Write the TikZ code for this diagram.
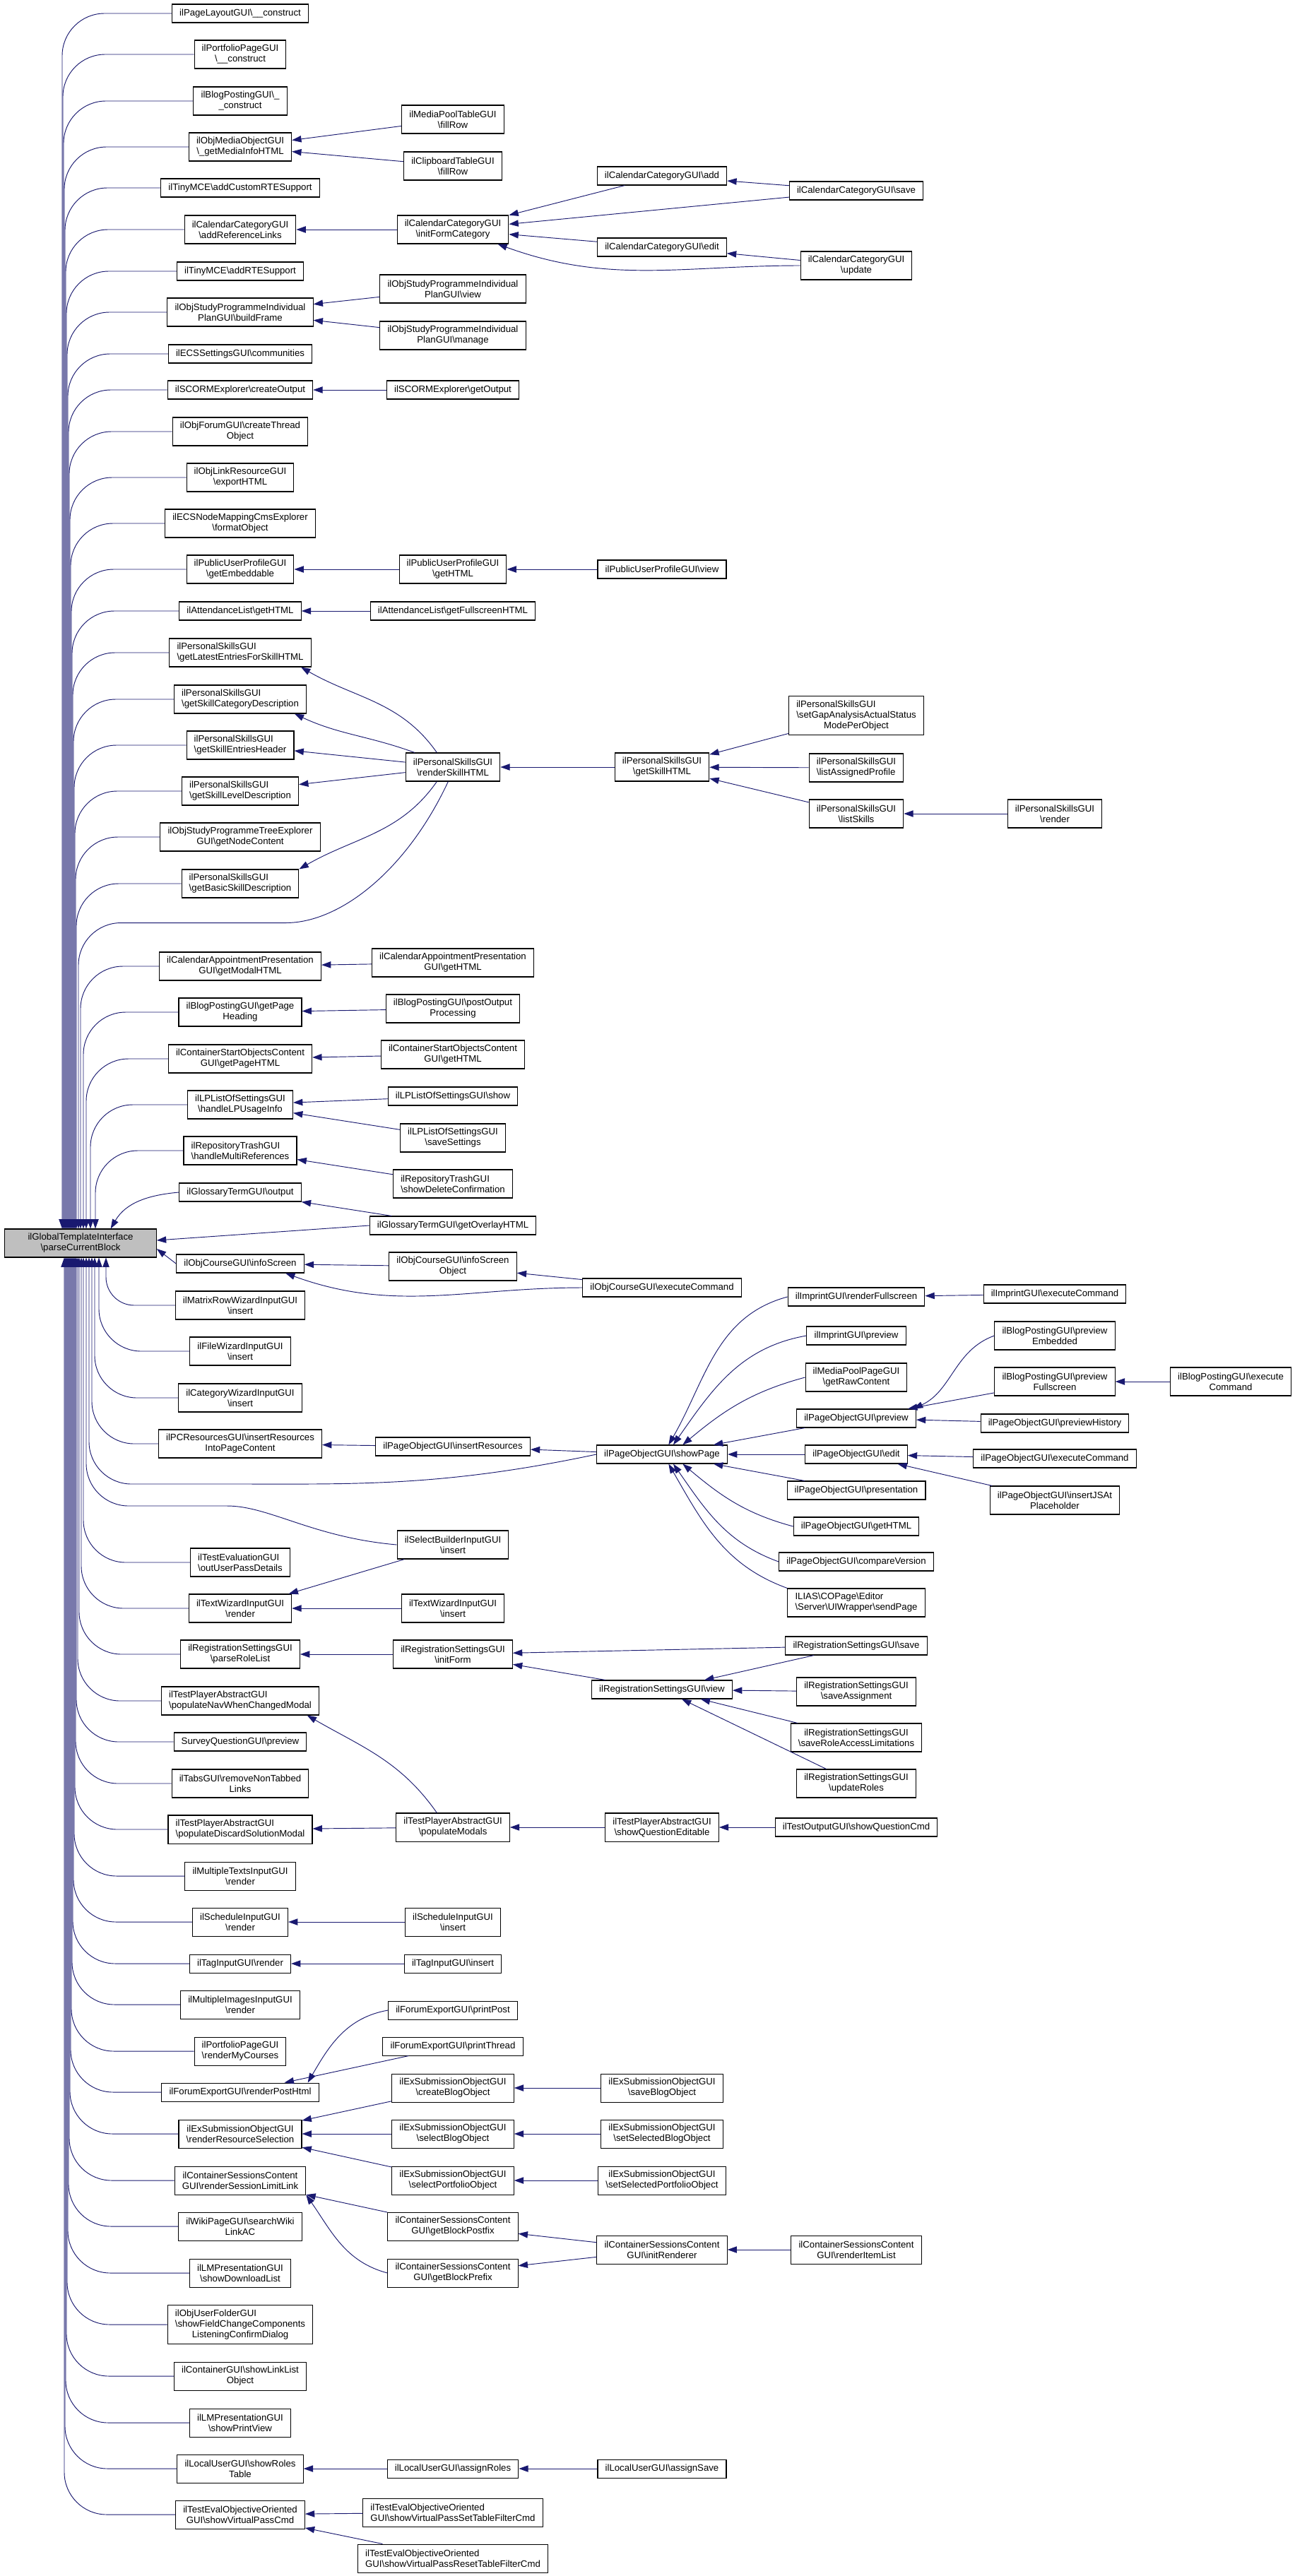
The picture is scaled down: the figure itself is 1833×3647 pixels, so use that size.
\documentclass[tikz,border=0pt]{standalone}
\usepackage{fontspec}
\setmainfont{Liberation Sans}
\usetikzlibrary{arrows.meta}
\definecolor{edgeblue}{HTML}{191970}
\definecolor{rootgray}{HTML}{BFBFBF}
\newcommand{\bsl}{\textbackslash}
\tikzset{
  fn/.style={draw=black,line width=0.8pt,fill=white,inner xsep=8pt,inner ysep=1pt,align=center,font=\fontsize{9.9}{11.25}\selectfont},
  fn1/.style={fn,minimum height=19.5pt},
  fn2/.style={fn,minimum height=30pt},
  fn3/.style={fn,minimum height=41.25pt},
  lft/.style={align=left},
  fncall/.style={draw=edgeblue,line width=0.7pt,-{Triangle[length=10pt,width=7pt]}},
}

\begin{document}
\begin{tikzpicture}[x=0.75pt,y=-0.75pt]
\path[fill=white] (0,0) rectangle (1833,3647);

\node[fn2,fill=rootgray,minimum width=161pt] (gti) at (114,1760) {ilGlobalTemplateInterface\\\bsl parseCurrentBlock};

\node[fn1] (pl) at (340,19) {ilPageLayoutGUI\bsl\_\_construct};
\node[fn2] (ppc) at (340,77) {ilPortfolioPageGUI\\\bsl\_\_construct};
\node[fn2] (bpc) at (340,143) {ilBlogPostingGUI\bsl\_\\\_construct};
\node[fn2] (mmi) at (340,208) {ilObjMediaObjectGUI\\\bsl\_getMediaInfoHTML};
\node[fn1] (tcr) at (340,266) {ilTinyMCE\bsl addCustomRTESupport};
\node[fn2] (crl) at (340,325) {ilCalendarCategoryGUI\\\bsl addReferenceLinks};
\node[fn1] (trs) at (340,384) {ilTinyMCE\bsl addRTESupport};
\node[fn2] (ipb) at (340,442) {ilObjStudyProgrammeIndividual\\PlanGUI\bsl buildFrame};
\node[fn1] (ecs) at (340,501) {ilECSSettingsGUI\bsl communities};
\node[fn1] (sco) at (340,552) {ilSCORMExplorer\bsl createOutput};
\node[fn2] (fct) at (340,611) {ilObjForumGUI\bsl createThread\\Object};
\node[fn2] (lre) at (340,676) {ilObjLinkResourceGUI\\\bsl exportHTML};
\node[fn2] (nmf) at (340,741) {ilECSNodeMappingCmsExplorer\\\bsl formatObject};
\node[fn2] (pue) at (340,806) {ilPublicUserProfileGUI\\\bsl getEmbeddable};
\node[fn1] (alh) at (340,865) {ilAttendanceList\bsl getHTML};
\node[fn2,lft] (psl) at (340,924) {ilPersonalSkillsGUI\\\bsl getLatestEntriesForSkillHTML};
\node[fn2,lft] (psc) at (340,990) {ilPersonalSkillsGUI\\\bsl getSkillCategoryDescription};
\node[fn2,lft] (pse) at (340,1055) {ilPersonalSkillsGUI\\\bsl getSkillEntriesHeader};
\node[fn2,lft] (psv) at (340,1120) {ilPersonalSkillsGUI\\\bsl getSkillLevelDescription};
\node[fn2] (tnc) at (340,1185) {ilObjStudyProgrammeTreeExplorer\\GUI\bsl getNodeContent};
\node[fn2,lft] (psb) at (340,1251) {ilPersonalSkillsGUI\\\bsl getBasicSkillDescription};
\node[fn2] (cam) at (340,1368) {ilCalendarAppointmentPresentation\\GUI\bsl getModalHTML};
\node[fn2] (bph) at (340,1433) {ilBlogPostingGUI\bsl getPage\\Heading};
\node[fn2] (csp) at (340,1499) {ilContainerStartObjectsContent\\GUI\bsl getPageHTML};
\node[fn2] (lpu) at (340,1564) {ilLPListOfSettingsGUI\\\bsl handleLPUsageInfo};
\node[fn2,lft] (rtm) at (340,1629) {ilRepositoryTrashGUI\\\bsl handleMultiReferences};
\node[fn1] (gto) at (340,1688) {ilGlossaryTermGUI\bsl output};
\node[fn1] (cis) at (340,1789) {ilObjCourseGUI\bsl infoScreen};
\node[fn2] (mri) at (340,1848) {ilMatrixRowWizardInputGUI\\\bsl insert};
\node[fn2] (fwi) at (340,1913) {ilFileWizardInputGUI\\\bsl insert};
\node[fn2] (cwi) at (340,1979) {ilCategoryWizardInputGUI\\\bsl insert};
\node[fn2] (pcr) at (340,2044) {ilPCResourcesGUI\bsl insertResources\\IntoPageContent};
\node[fn2,lft] (teo) at (340,2212) {ilTestEvaluationGUI\\\bsl outUserPassDetails};
\node[fn2] (twr) at (340,2277) {ilTextWizardInputGUI\\\bsl render};
\node[fn2] (rsp) at (340,2342) {ilRegistrationSettingsGUI\\\bsl parseRoleList};
\node[fn2,lft] (tpn) at (340,2408) {ilTestPlayerAbstractGUI\\\bsl populateNavWhenChangedModal};
\node[fn1] (sqp) at (340,2466) {SurveyQuestionGUI\bsl preview};
\node[fn2] (tgr) at (340,2525) {ilTabsGUI\bsl removeNonTabbed\\Links};
\node[fn2,lft] (tpd) at (340,2590) {ilTestPlayerAbstractGUI\\\bsl populateDiscardSolutionModal};
\node[fn2] (mtr) at (340,2656) {ilMultipleTextsInputGUI\\\bsl render};
\node[fn2] (sir) at (340,2721) {ilScheduleInputGUI\\\bsl render};
\node[fn1] (tir) at (340,2780) {ilTagInputGUI\bsl render};
\node[fn2] (mir) at (340,2838) {ilMultipleImagesInputGUI\\\bsl render};
\node[fn2] (pmc) at (340,2904) {ilPortfolioPageGUI\\\bsl renderMyCourses};
\node[fn1] (fph) at (340,2962) {ilForumExportGUI\bsl renderPostHtml};
\node[fn2] (esr) at (340,3021) {ilExSubmissionObjectGUI\\\bsl renderResourceSelection};
\node[fn2] (csl) at (340,3087) {ilContainerSessionsContent\\GUI\bsl renderSessionLimitLink};
\node[fn2] (wps) at (340,3152) {ilWikiPageGUI\bsl searchWiki\\LinkAC};
\node[fn2] (lmd) at (340,3218) {ilLMPresentationGUI\\\bsl showDownloadList};
\node[fn3,lft] (ufc) at (340,3291) {ilObjUserFolderGUI\\\bsl showFieldChangeComponents\\\null\hfill ListeningConfirmDialog\hfill\null};
\node[fn2] (cll) at (340,3364) {ilContainerGUI\bsl showLinkList\\Object};
\node[fn2] (lmp) at (340,3430) {ilLMPresentationGUI\\\bsl showPrintView};
\node[fn2] (lur) at (340,3495) {ilLocalUserGUI\bsl showRoles\\Table};
\node[fn2] (tev) at (340,3560) {ilTestEvalObjectiveOriented\\GUI\bsl showVirtualPassCmd};

\node[fn2] (mpf) at (641,169) {ilMediaPoolTableGUI\\\bsl fillRow};
\node[fn2] (cbf) at (641,235) {ilClipboardTableGUI\\\bsl fillRow};
\node[fn2] (cif) at (641,325) {ilCalendarCategoryGUI\\\bsl initFormCategory};
\node[fn2] (ipv) at (641,409) {ilObjStudyProgrammeIndividual\\PlanGUI\bsl view};
\node[fn2] (ipm) at (641,475) {ilObjStudyProgrammeIndividual\\PlanGUI\bsl manage};
\node[fn1] (sgo) at (641,552) {ilSCORMExplorer\bsl getOutput};
\node[fn2] (puh) at (641,806) {ilPublicUserProfileGUI\\\bsl getHTML};
\node[fn1] (alf) at (641,865) {ilAttendanceList\bsl getFullscreenHTML};
\node[fn2] (psr) at (641,1086) {ilPersonalSkillsGUI\\\bsl renderSkillHTML};
\node[fn2] (cah) at (641,1363) {ilCalendarAppointmentPresentation\\GUI\bsl getHTML};
\node[fn2] (bpo) at (641,1428) {ilBlogPostingGUI\bsl postOutput\\Processing};
\node[fn2] (csh) at (641,1493) {ilContainerStartObjectsContent\\GUI\bsl getHTML};
\node[fn1] (lps) at (641,1552) {ilLPListOfSettingsGUI\bsl show};
\node[fn2] (lpv) at (641,1611) {ilLPListOfSettingsGUI\\\bsl saveSettings};
\node[fn2,lft] (rtd) at (641,1676) {ilRepositoryTrashGUI\\\bsl showDeleteConfirmation};
\node[fn1] (gtx) at (641,1735) {ilGlossaryTermGUI\bsl getOverlayHTML};
\node[fn2] (cio) at (641,1793) {ilObjCourseGUI\bsl infoScreen\\Object};
\node[fn1] (pir) at (641,2048) {ilPageObjectGUI\bsl insertResources};
\node[fn2] (sbi) at (641,2187) {ilSelectBuilderInputGUI\\\bsl insert};
\node[fn2] (twi) at (641,2277) {ilTextWizardInputGUI\\\bsl insert};
\node[fn2] (rsi) at (641,2342) {ilRegistrationSettingsGUI\\\bsl initForm};
\node[fn2] (tpm) at (641,2587) {ilTestPlayerAbstractGUI\\\bsl populateModals};
\node[fn2] (sii) at (641,2721) {ilScheduleInputGUI\\\bsl insert};
\node[fn1] (tii) at (641,2780) {ilTagInputGUI\bsl insert};
\node[fn1] (fpp) at (641,2846) {ilForumExportGUI\bsl printPost};
\node[fn1] (fpt) at (641,2897) {ilForumExportGUI\bsl printThread};
\node[fn2] (ecb) at (641,2956) {ilExSubmissionObjectGUI\\\bsl createBlogObject};
\node[fn2] (esb) at (641,3021) {ilExSubmissionObjectGUI\\\bsl selectBlogObject};
\node[fn2] (esp) at (641,3087) {ilExSubmissionObjectGUI\\\bsl selectPortfolioObject};
\node[fn2] (cbx) at (641,3152) {ilContainerSessionsContent\\GUI\bsl getBlockPostfix};
\node[fn2] (cbp) at (641,3218) {ilContainerSessionsContent\\GUI\bsl getBlockPrefix};
\node[fn1] (lar) at (641,3495) {ilLocalUserGUI\bsl assignRoles};
\node[fn2,lft] (tvs) at (641,3557) {ilTestEvalObjectiveOriented\\GUI\bsl showVirtualPassSetTableFilterCmd};
\node[fn2,lft] (tvr) at (641,3622) {ilTestEvalObjectiveOriented\\GUI\bsl showVirtualPassResetTableFilterCmd};

\node[fn1] (cad) at (937,249) {ilCalendarCategoryGUI\bsl add};
\node[fn1] (ced) at (937,350) {ilCalendarCategoryGUI\bsl edit};
\node[fn1] (puv) at (937,806) {ilPublicUserProfileGUI\bsl view};
\node[fn2] (psh) at (937,1086) {ilPersonalSkillsGUI\\\bsl getSkillHTML};
\node[fn1] (cex) at (937,1823) {ilObjCourseGUI\bsl executeCommand};
\node[fn1] (psp) at (937,2059) {ilPageObjectGUI\bsl showPage};
\node[fn1] (rsv) at (937,2392) {ilRegistrationSettingsGUI\bsl view};
\node[fn2] (tpq) at (937,2587) {ilTestPlayerAbstractGUI\\\bsl showQuestionEditable};
\node[fn2] (esv) at (937,2956) {ilExSubmissionObjectGUI\\\bsl saveBlogObject};
\node[fn2] (ssb) at (937,3021) {ilExSubmissionObjectGUI\\\bsl setSelectedBlogObject};
\node[fn2] (ssp) at (937,3087) {ilExSubmissionObjectGUI\\\bsl setSelectedPortfolioObject};
\node[fn2] (cir) at (937,3185) {ilContainerSessionsContent\\GUI\bsl initRenderer};
\node[fn1] (las) at (937,3495) {ilLocalUserGUI\bsl assignSave};

\node[fn1] (csv) at (1212,270) {ilCalendarCategoryGUI\bsl save};
\node[fn2] (cup) at (1212,376) {ilCalendarCategoryGUI\\\bsl update};
\node[fn3,lft] (psg) at (1212,1013) {ilPersonalSkillsGUI\\\bsl setGapAnalysisActualStatus\\\null\hfill ModePerObject\hfill\null};
\node[fn2,lft] (psa) at (1212,1087) {ilPersonalSkillsGUI\\\bsl listAssignedProfile};
\node[fn2] (pss) at (1212,1152) {ilPersonalSkillsGUI\\\bsl listSkills};
\node[fn1] (irf) at (1212,1836) {ilImprintGUI\bsl renderFullscreen};
\node[fn1] (ipr) at (1212,1891) {ilImprintGUI\bsl preview};
\node[fn2] (mpr) at (1212,1950) {ilMediaPoolPageGUI\\\bsl getRawContent};
\node[fn1] (pop) at (1212,2008) {ilPageObjectGUI\bsl preview};
\node[fn1] (poe) at (1212,2059) {ilPageObjectGUI\bsl edit};
\node[fn1] (pos) at (1212,2110) {ilPageObjectGUI\bsl presentation};
\node[fn1] (poh) at (1212,2161) {ilPageObjectGUI\bsl getHTML};
\node[fn1] (pcv) at (1212,2211) {ilPageObjectGUI\bsl compareVersion};
\node[fn2,lft] (uws) at (1212,2269) {ILIAS\bsl COPage\bsl Editor\\\bsl Server\bsl UIWrapper\bsl sendPage};
\node[fn1] (rss) at (1212,2330) {ilRegistrationSettingsGUI\bsl save};
\node[fn2] (rsa) at (1212,2395) {ilRegistrationSettingsGUI\\\bsl saveAssignment};
\node[fn2] (rsl) at (1212,2460) {ilRegistrationSettingsGUI\\\bsl saveRoleAccessLimitations};
\node[fn2] (rsu) at (1212,2525) {ilRegistrationSettingsGUI\\\bsl updateRoles};
\node[fn1] (toq) at (1212,2587) {ilTestOutputGUI\bsl showQuestionCmd};
\node[fn2] (cri) at (1212,3185) {ilContainerSessionsContent\\GUI\bsl renderItemList};

\node[fn2] (psd) at (1493,1152) {ilPersonalSkillsGUI\\\bsl render};
\node[fn1] (iex) at (1493,1832) {ilImprintGUI\bsl executeCommand};
\node[fn2] (bpe) at (1493,1891) {ilBlogPostingGUI\bsl preview\\Embedded};
\node[fn2] (bpf) at (1493,1956) {ilBlogPostingGUI\bsl preview\\Fullscreen};
\node[fn1] (poi) at (1493,2015) {ilPageObjectGUI\bsl previewHistory};
\node[fn1] (pox) at (1493,2065) {ilPageObjectGUI\bsl executeCommand};
\node[fn2] (pji) at (1493,2124) {ilPageObjectGUI\bsl insertJSAt\\Placeholder};

\node[fn2] (bpx) at (1742,1956) {ilBlogPostingGUI\bsl execute\\Command};

\draw[fncall,rounded corners=45pt] (pl.west) -| ([xshift=-19.5pt]gti.north);
\draw[fncall,rounded corners=45pt] (ppc.west) -| ([xshift=-18.75pt]gti.north);
\draw[fncall,rounded corners=45pt] (bpc.west) -| ([xshift=-18pt]gti.north);
\draw[fncall,rounded corners=45pt] (mmi.west) -| ([xshift=-17.25pt]gti.north);
\draw[fncall,rounded corners=45pt] (tcr.west) -| ([xshift=-16.5pt]gti.north);
\draw[fncall,rounded corners=45pt] (crl.west) -| ([xshift=-15.75pt]gti.north);
\draw[fncall,rounded corners=45pt] (trs.west) -| ([xshift=-15pt]gti.north);
\draw[fncall,rounded corners=45pt] (ipb.west) -| ([xshift=-14.25pt]gti.north);
\draw[fncall,rounded corners=45pt] (ecs.west) -| ([xshift=-13.5pt]gti.north);
\draw[fncall,rounded corners=45pt] (sco.west) -| ([xshift=-12.75pt]gti.north);
\draw[fncall,rounded corners=45pt] (fct.west) -| ([xshift=-12pt]gti.north);
\draw[fncall,rounded corners=45pt] (lre.west) -| ([xshift=-11.25pt]gti.north);
\draw[fncall,rounded corners=45pt] (nmf.west) -| ([xshift=-10.5pt]gti.north);
\draw[fncall,rounded corners=45pt] (pue.west) -| ([xshift=-9.75pt]gti.north);
\draw[fncall,rounded corners=45pt] (alh.west) -| ([xshift=-9pt]gti.north);
\draw[fncall,rounded corners=45pt] (psl.west) -| ([xshift=-8.25pt]gti.north);
\draw[fncall,rounded corners=45pt] (psc.west) -| ([xshift=-7.5pt]gti.north);
\draw[fncall,rounded corners=45pt] (pse.west) -| ([xshift=-6.75pt]gti.north);
\draw[fncall,rounded corners=45pt] (psv.west) -| ([xshift=-6pt]gti.north);
\draw[fncall,rounded corners=45pt] (tnc.west) -| ([xshift=-5.25pt]gti.north);
\draw[fncall,rounded corners=45pt] (psb.west) -| ([xshift=-4.5pt]gti.north);
\draw[fncall,rounded corners=45pt] ([xshift=-5pt]psr.south) to[out=-115,in=0] ++(-290,200) -| ([xshift=-2.25pt]gti.north);
\draw[fncall,rounded corners=45pt] (cam.west) -| (gti.north);
\draw[fncall,rounded corners=45pt] (bph.west) -| ([xshift=3pt]gti.north);
\draw[fncall,rounded corners=45pt] (csp.west) -| ([xshift=6pt]gti.north);
\draw[fncall,rounded corners=45pt] (lpu.west) -| ([xshift=10.5pt]gti.north);
\draw[fncall,rounded corners=45pt] (rtm.west) -| ([xshift=15.75pt]gti.north);
\draw[fncall] (gto.west) to[out=185,in=60] ([xshift=32pt]gti.north);
\draw[fncall] (gtx.west) -- ([yshift=3pt]gti.east);
\draw[fncall] (cis.west) -- ([yshift=-6pt]gti.east);
\draw[fncall,rounded corners=30pt] (mri.west) -| ([xshift=27pt]gti.south);
\draw[fncall,rounded corners=45pt] (fwi.west) -| ([xshift=19.5pt]gti.south);
\draw[fncall,rounded corners=45pt] (cwi.west) -| ([xshift=15pt]gti.south);
\draw[fncall,rounded corners=45pt] (pcr.west) -| ([xshift=12pt]gti.south);
\draw[fncall,rounded corners=45pt] (psp.west) to[out=192,in=0] ++(-560,42) -| ([xshift=9pt]gti.south);
\draw[fncall,rounded corners=45pt] (sbi.west) to[out=175,in=0] ++(-300,-55) -| ([xshift=6pt]gti.south);
\draw[fncall,rounded corners=45pt] (teo.west) -| ([xshift=3pt]gti.south);
\draw[fncall,rounded corners=45pt] (twr.west) -| ([xshift=0.75pt]gti.south);
\draw[fncall,rounded corners=45pt] (rsp.west) -| ([xshift=-1.5pt]gti.south);
\draw[fncall,rounded corners=45pt] (tpn.west) -| ([xshift=-3pt]gti.south);
\draw[fncall,rounded corners=45pt] (sqp.west) -| ([xshift=-4.5pt]gti.south);
\draw[fncall,rounded corners=45pt] (tgr.west) -| ([xshift=-5.25pt]gti.south);
\draw[fncall,rounded corners=45pt] (tpd.west) -| ([xshift=-6pt]gti.south);
\draw[fncall,rounded corners=45pt] (mtr.west) -| ([xshift=-6.75pt]gti.south);
\draw[fncall,rounded corners=45pt] (sir.west) -| ([xshift=-7.5pt]gti.south);
\draw[fncall,rounded corners=45pt] (tir.west) -| ([xshift=-8.25pt]gti.south);
\draw[fncall,rounded corners=45pt] (mir.west) -| ([xshift=-9pt]gti.south);
\draw[fncall,rounded corners=45pt] (pmc.west) -| ([xshift=-9.75pt]gti.south);
\draw[fncall,rounded corners=45pt] (fph.west) -| ([xshift=-10.5pt]gti.south);
\draw[fncall,rounded corners=45pt] (esr.west) -| ([xshift=-11.25pt]gti.south);
\draw[fncall,rounded corners=45pt] (csl.west) -| ([xshift=-12pt]gti.south);
\draw[fncall,rounded corners=45pt] (wps.west) -| ([xshift=-12.75pt]gti.south);
\draw[fncall,rounded corners=45pt] (lmd.west) -| ([xshift=-13.5pt]gti.south);
\draw[fncall,rounded corners=45pt] (ufc.west) -| ([xshift=-14.25pt]gti.south);
\draw[fncall,rounded corners=45pt] (cll.west) -| ([xshift=-15pt]gti.south);
\draw[fncall,rounded corners=45pt] (lmp.west) -| ([xshift=-15.75pt]gti.south);
\draw[fncall,rounded corners=45pt] (lur.west) -| ([xshift=-16.5pt]gti.south);
\draw[fncall,rounded corners=45pt] (tev.west) -| ([xshift=-17.25pt]gti.south);

\draw[fncall] (mpf) -- (mmi);
\draw[fncall] (cbf) -- (mmi);
\draw[fncall] (cif) -- (crl);
\draw[fncall] (cad) -- (cif);
\draw[fncall] (csv) -- (cif);
\draw[fncall] (ced) -- (cif);
\draw[fncall] (cup.west) to[out=180,in=-20] ([xshift=-12pt]cif.south east);
\draw[fncall] (csv) -- (cad);
\draw[fncall] (cup) -- (ced);
\draw[fncall] (ipv) -- (ipb);
\draw[fncall] (ipm) -- (ipb);
\draw[fncall] (sgo) -- (sco);
\draw[fncall] (puh) -- (pue);
\draw[fncall] (puv) -- (puh);
\draw[fncall] (alf) -- (alh);
\draw[fncall] ([xshift=-17pt]psr.north) to[out=125,in=-30] ([xshift=-11pt]psl.south east);
\draw[fncall] ([xshift=10pt]psr.north west) to[out=160,in=-25] ([xshift=-13pt]psc.south east);
\draw[fncall] (psr) -- (pse);
\draw[fncall] (psr) -- (psv);
\draw[fncall] ([xshift=-17pt]psr.south) to[out=-125,in=30] (psb.north east);
\draw[fncall] (psh) -- (psr);
\draw[fncall] (psg) -- (psh);
\draw[fncall] (psa) -- (psh);
\draw[fncall] (pss) -- (psh);
\draw[fncall] (psd) -- (pss);
\draw[fncall] (cah) -- (cam);
\draw[fncall] (bpo) -- (bph);
\draw[fncall] (csh) -- (csp);
\draw[fncall] (lps) -- (lpu);
\draw[fncall] (lpv) -- (lpu);
\draw[fncall] (rtd) -- (rtm);
\draw[fncall] (gtx) -- (gto);
\draw[fncall] (cio) -- (cis);
\draw[fncall] (cex) -- (cio);
\draw[fncall] (cex.west) to[out=180,in=-20] ([xshift=-20pt]cis.south east);
\draw[fncall] (pir) -- (pcr);
\draw[fncall] (psp) -- (pir);
\draw[fncall] (irf.west) to[out=195,in=60] ([xshift=7pt]psp.north);
\draw[fncall] (ipr.west) to[out=190,in=55] ([xshift=12pt]psp.north);
\draw[fncall] (mpr.west) to[out=195,in=40] ([xshift=22pt]psp.north);
\draw[fncall] (pop) -- (psp);
\draw[fncall] (poe) -- (psp);
\draw[fncall] (pos) -- (psp);
\draw[fncall] (poh.west) to[out=165,in=-40] ([xshift=22pt]psp.south);
\draw[fncall] (pcv.west) to[out=160,in=-55] ([xshift=12pt]psp.south);
\draw[fncall] (uws.north west) to[out=160,in=-60] ([xshift=7pt]psp.south);
\draw[fncall] (iex) -- (irf);
\draw[fncall] (bpe.west) to[out=200,in=25] ([xshift=-3pt]pop.north east);
\draw[fncall] (bpf) -- (pop);
\draw[fncall] (poi) -- (pop);
\draw[fncall] (bpx) -- (bpf);
\draw[fncall] (pox) -- (poe);
\draw[fncall] (pji) -- (poe);
\draw[fncall] (sbi) -- (twr);
\draw[fncall] (twi) -- (twr);
\draw[fncall] (rsi) -- (rsp);
\draw[fncall] (rss) -- (rsi);
\draw[fncall] (rsv) -- (rsi);
\draw[fncall] (rss) -- (rsv);
\draw[fncall] (rsa) -- (rsv);
\draw[fncall] (rsl) -- (rsv);
\draw[fncall] (rsu) -- (rsv);
\draw[fncall] ([xshift=-17pt]tpm.north) to[out=125,in=-30] ([xshift=-13pt]tpn.south east);
\draw[fncall] (tpm) -- (tpd);
\draw[fncall] (tpq) -- (tpm);
\draw[fncall] (toq) -- (tpq);
\draw[fncall] (sii) -- (sir);
\draw[fncall] (tii) -- (tir);
\draw[fncall] (fpp.west) to[out=190,in=60] ([xshift=-12pt]fph.north east);
\draw[fncall] (fpt) -- (fph);
\draw[fncall] (ecb) -- (esr);
\draw[fncall] (esb) -- (esr);
\draw[fncall] (esp) -- (esr);
\draw[fncall] (esv) -- (ecb);
\draw[fncall] (ssb) -- (esb);
\draw[fncall] (ssp) -- (esp);
\draw[fncall] (cbx) -- (csl);
\draw[fncall] (cbp.west) to[out=165,in=-55] (csl.south east);
\draw[fncall] (cir) -- (cbx);
\draw[fncall] (cir) -- (cbp);
\draw[fncall] (cri) -- (cir);
\draw[fncall] (lar) -- (lur);
\draw[fncall] (las) -- (lar);
\draw[fncall] (tvs) -- (tev);
\draw[fncall] (tvr) -- (tev);
\end{tikzpicture}
\end{document}
